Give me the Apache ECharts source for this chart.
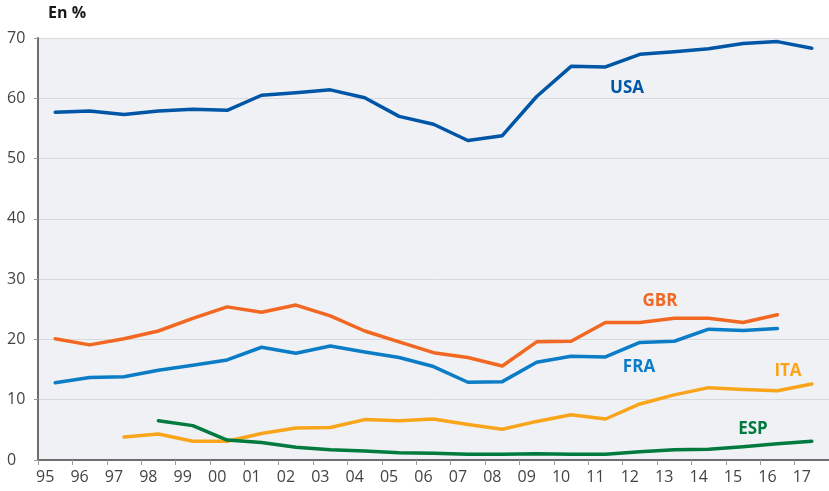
<!DOCTYPE html>
<html>
<head>
<meta charset="utf-8">
<script src="https://cdn.jsdelivr.net/npm/echarts@6/dist/echarts.min.js"></script>
<style>
  html, body { margin: 0; padding: 0; background: #ffffff; }
  #chart { width: 829px; height: 491px; }
</style>
</head>
<body>
<div id="chart"></div>
<script>
// Years 1995–2017, shown as two-digit labels
const years = ['95','96','97','98','99','00','01','02','03','04','05','06','07','08','09','10','11','12','13','14','15','16','17'];

// Shares in %, one value per year (null = no data)
const usa = [57.7, 57.9, 57.3, 57.9, 58.2, 58.0, 60.5, 60.9, 61.4, 60.1, 57.0, 55.7, 53.0, 53.8, 60.3, 65.3, 65.2, 67.3, 67.7, 68.2, 69.1, 69.4, 68.3];
const gbr = [20.1, 19.1, 20.1, 21.4, 23.5, 25.4, 24.5, 25.7, 23.9, 21.4, 19.6, 17.8, 17.0, 15.6, 19.6, 19.7, 22.8, 22.8, 23.5, 23.5, 22.8, 24.1, null];
const fra = [12.8, 13.7, 13.8, 14.9, 15.7, 16.6, 18.7, 17.7, 18.9, 17.9, 17.0, 15.5, 12.9, 13.0, 16.2, 17.2, 17.1, 19.5, 19.7, 21.7, 21.5, 21.8, null];
const ita = [null, null, 3.8, 4.3, 3.1, 3.1, 4.4, 5.3, 5.4, 6.7, 6.5, 6.8, 5.9, 5.1, 6.4, 7.5, 6.8, 9.3, 10.8, 12.0, 11.7, 11.5, 12.6];
const esp = [null, null, null, 6.5, 5.7, 3.3, 2.9, 2.1, 1.7, 1.5, 1.2, 1.1, 0.95, 0.95, 1.05, 0.95, 0.95, 1.35, 1.7, 1.8, 2.2, 2.7, 3.1];

const yTicks = { min: 0, max: 70, step: 10 };

const colors = {
  usa: '#0056a6',
  gbr: '#f26722',
  fra: '#0b7cc6',
  ita: '#f9a51b',
  esp: '#007a3e'
};

const FONT = '"Open Sans", "Noto Sans", sans-serif';

function lineSeries(name, data, color) {
  return {
    name: name,
    type: 'line',
    data: data,
    symbol: 'none',
    connectNulls: false,
    lineStyle: { color: color, width: 3.5, cap: 'round', join: 'round' },
    itemStyle: { color: color },
    animation: false
  };
}

function seriesLabel(text, x, y, color) {
  return {
    type: 'text',
    x: x,
    y: y,
    silent: true,
    style: {
      text: text,
      fill: color,
      font: 'bold 17px ' + FONT,
      textAlign: 'center',
      textVerticalAlign: 'middle'
    }
  };
}

const chart = echarts.init(document.getElementById('chart'), null, { renderer: 'canvas' });

chart.setOption({
  backgroundColor: '#ffffff',
  animation: false,
  grid: {
    left: 38,
    top: 38,
    width: 791,
    height: 422,
    show: true,
    backgroundColor: '#f0f1f4',
    borderWidth: 0
  },
  xAxis: {
    type: 'category',
    data: years,
    boundaryGap: true,
    axisLine: { show: true, lineStyle: { color: '#6e6e6e', width: 2 } },
    axisTick: { show: true, length: 5, lineStyle: { color: '#9a9a9a', width: 1 } },
    axisLabel: {
      color: '#444444',
      fontSize: 16,
      fontFamily: FONT,
      margin: 9,
      padding: [0, 20, 0, 0],
      interval: 0
    },
    splitLine: { show: false }
  },
  yAxis: {
    type: 'value',
    min: yTicks.min,
    max: yTicks.max,
    interval: yTicks.step,
    axisLine: { show: true, lineStyle: { color: '#6e6e6e', width: 2 } },
    axisTick: { show: true, length: 4, lineStyle: { color: '#9a9a9a' } },
    axisLabel: {
      color: '#444444',
      fontSize: 16,
      fontFamily: FONT,
      align: 'left',
      margin: 31
    },
    splitLine: { show: true, lineStyle: { color: '#d9dadf', width: 1 } }
  },
  series: [
    lineSeries('USA', usa, colors.usa),
    lineSeries('GBR', gbr, colors.gbr),
    lineSeries('FRA', fra, colors.fra),
    lineSeries('ITA', ita, colors.ita),
    lineSeries('ESP', esp, colors.esp)
  ],
  graphic: [
    {
      type: 'text',
      left: 48,
      top: 5,
      silent: true,
      style: { text: 'En %', fill: '#1a1a1a', font: 'bold 16px ' + FONT }
    },
    seriesLabel('USA', 627, 88, colors.usa),
    seriesLabel('GBR', 660, 301, colors.gbr),
    seriesLabel('FRA', 639, 367, colors.fra),
    seriesLabel('ITA', 788, 371, colors.ita),
    seriesLabel('ESP', 753, 429, colors.esp)
  ]
});
</script>
</body>
</html>
